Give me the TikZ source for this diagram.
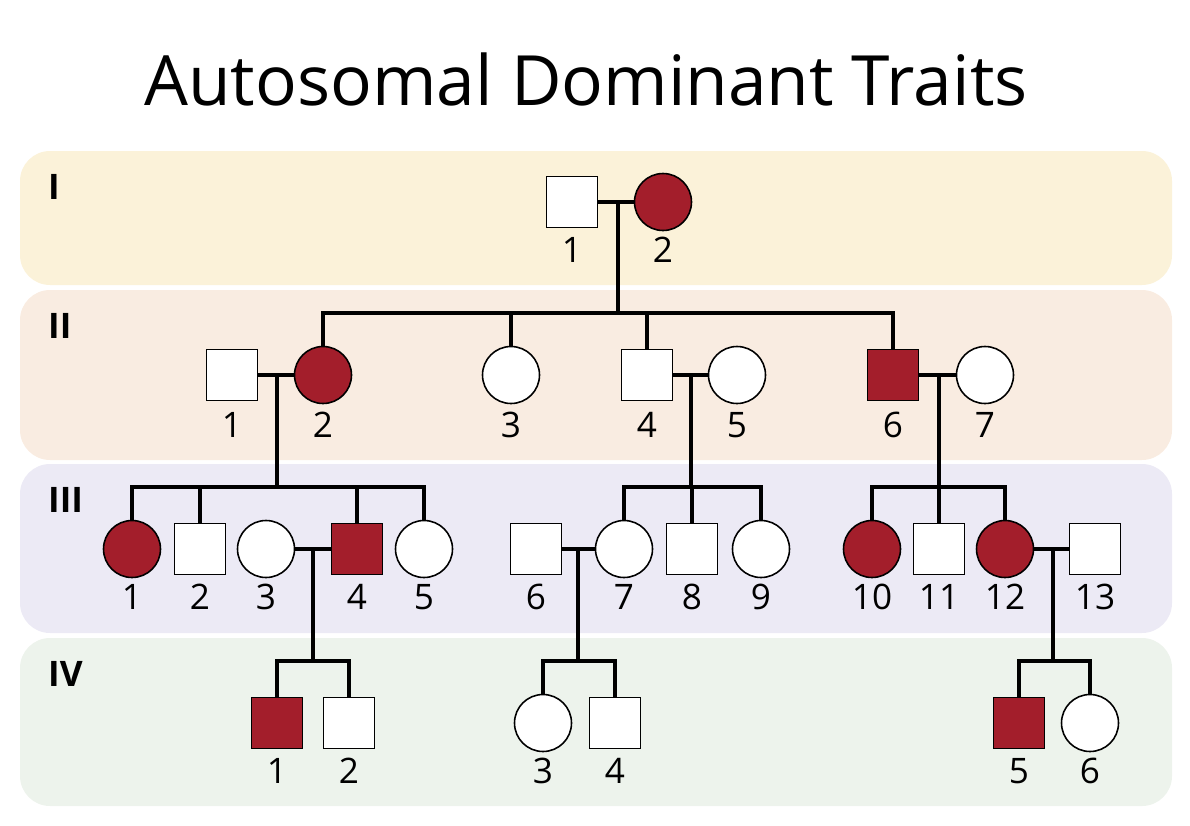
\documentclass[tikz,border=0pt]{standalone}
\usepackage{fontspec}
\setmainfont{Open Sans}
\usepackage{tikz}
\usetikzlibrary{calc}
\definecolor{AffRed}{RGB}{163,30,43}
\definecolor{GenOne}{RGB}{251,242,217}
\definecolor{GenTwo}{RGB}{249,236,225}
\definecolor{GenThree}{RGB}{236,234,245}
\definecolor{GenFour}{RGB}{237,243,236}

\begin{document}
\begin{tikzpicture}[
  x=0.02cm,y=-0.02cm,
  male/.style={rectangle,draw=black,fill=white,minimum size=1.02cm,
               inner sep=0pt,line width=0.9pt},
  female/.style={circle,draw=black,fill=white,minimum size=1.14cm,
                 inner sep=0pt,line width=0.9pt},
  amale/.style={male,fill=AffRed},
  afemale/.style={female,fill=AffRed},
  num/.style={font=\fontsize{20}{22}\selectfont,anchor=base},
  genlbl/.style={font=\fontsize{20}{22}\selectfont\bfseries,anchor=base west},
  band/.style={rounded corners=0.6cm},
  link/.style={line width=2pt,line join=miter},
  title/.style={font=\fontsize{39.5}{44}\selectfont,anchor=base},
]
\useasboundingbox (0,0) rectangle (1190,825);

%% Title and generation bands
\node[title] (title) at (586,105) {Autosomal Dominant Traits};
\fill[band,GenOne]   (20,151) rectangle (1172,285);
\fill[band,GenTwo]   (20,290) rectangle (1172,460);
\fill[band,GenThree] (20,464) rectangle (1172,633);
\fill[band,GenFour]  (20,638) rectangle (1172,806);
\node[genlbl] (gI)   at (42,199) {I};
\node[genlbl] (gII)  at (42,338) {II};
\node[genlbl] (gIII) at (42,512) {III};
\node[genlbl] (gIV)  at (42,686) {IV};

%% Generation I
\foreach \n/\x/\s in {1/572/male,2/663/afemale}{
  \node[\s] (I\n) at (\x,202) {};
  \node[num] (lI\n) at (\x,262) {\n};
}

%% Generation II
\foreach \n/\x/\s in {1/232/male,2/323/afemale,3/511/female,4/647/male,
                      5/737/female,6/893/amale,7/985/female}{
  \node[\s] (II\n) at (\x,375) {};
  \node[num] (lII\n) at (\x,437) {\n};
}

%% Generation III
\foreach \n/\x/\s in {1/132/afemale,2/200/male,3/266/female,4/357/amale,
                      5/424/female,6/536/male,7/624/female,8/692/male,
                      9/761/female,10/872/afemale,11/939/male,
                      12/1005/afemale,13/1095/male}{
  \node[\s] (III\n) at (\x,549) {};
  \node[num] (lIII\n) at (\x,609) {\n};
}

%% Generation IV
\foreach \n/\x/\s in {1/277/amale,2/349/male,3/543/female,4/615/male,
                      5/1019/amale,6/1090/female}{
  \node[\s] (IV\n) at (\x,723) {};
  \node[num] (lIV\n) at (\x,783) {\n};
}

%% Matings and descent lines
\coordinate (mI)    at (618,202);  \coordinate (sI)    at (618,313);
\coordinate (mII1)  at (277,375);  \coordinate (sII1)  at (277,487);
\coordinate (mII4)  at (691,375);  \coordinate (sII4)  at (691,487);
\coordinate (mII6)  at (939,375);  \coordinate (sII6)  at (939,487);
\coordinate (mIII3) at (313,549);  \coordinate (sIII3) at (313,661);
\coordinate (mIII6) at (578,549);  \coordinate (sIII6) at (578,661);
\coordinate (mIII12) at (1053,549); \coordinate (sIII12) at (1053,661);

\draw[link] (I1) -- (I2);  \draw[link] (mI) -- (sI);
\draw[link] (II2) |- (sI) -| (II6);
\draw[link] (II3) -- (II3 |- sI);  \draw[link] (II4) -- (II4 |- sI);

\draw[link] (II1) -- (II2);  \draw[link] (mII1) -- (sII1);
\draw[link] (III1) |- (sII1) -| (III5);
\draw[link] (III2) -- (III2 |- sII1);  \draw[link] (III4) -- (III4 |- sII1);

\draw[link] (II4) -- (II5);  \draw[link] (mII4) -- (sII4);
\draw[link] (III7) |- (sII4) -| (III9);
\draw[link] (III8) -- (III8 |- sII4);

\draw[link] (II6) -- (II7);  \draw[link] (mII6) -- (sII6);
\draw[link] (III10) |- (sII6) -| (III12);
\draw[link] (III11) -- (III11 |- sII6);

\draw[link] (III3) -- (III4);  \draw[link] (mIII3) -- (sIII3);
\draw[link] (IV1) |- (sIII3) -| (IV2);

\draw[link] (III6) -- (III7);  \draw[link] (mIII6) -- (sIII6);
\draw[link] (IV3) |- (sIII6) -| (IV4);

\draw[link] (III12) -- (III13);  \draw[link] (mIII12) -- (sIII12);
\draw[link] (IV5) |- (sIII12) -| (IV6);

\end{tikzpicture}
\end{document}
